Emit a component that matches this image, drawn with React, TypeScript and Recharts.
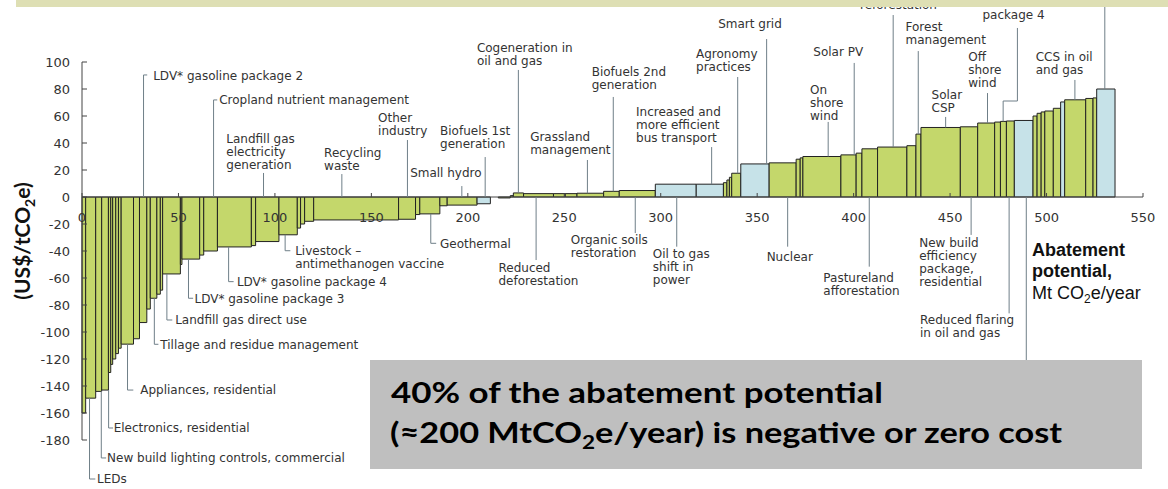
import React from 'react';
import { ComposedChart, XAxis, YAxis, Line, ReferenceArea, ReferenceLine, ReferenceDot } from 'recharts';

// abatement measures, left to right: width (Mt CO2e/year) and cost (US$/tCO2e)
const widths = [
  1.9, 5.2, 3.1, 3.5, 1.2, 1.0, 1.6, 1.4, 1.4, 6.4,
  3.1, 3.8, 1.8, 3.4, 1.8, 1.2, 9.2, 0.8, 9.2, 2.1,
  7.1, 17.6, 2.2, 12.1, 9.5, 1.7, 2.1, 4.7, 44.0, 8.8,
  2.2, 10.4, 3.8, 15.5, 6.9, 4.1, 6.2, 1.6, 5.3, 15.5,
  6.1, 6.1, 13.8, 8.1, 18.7, 21.2, 14.1, 1.8, 1.3, 1.2,
  4.7, 14.7, 14.0, 2.1, 1.4, 19.7, 7.9, 3.0, 8.1, 15.2,
  4.7, 2.6, 20.4, 9.0, 8.8, 3.0, 3.1, 4.1, 9.7, 2.1,
  2.1, 1.9, 4.4, 3.8, 2.1, 10.9, 3.8, 1.9, 9.5,
];
const costs = [
  -160, -149, -144, -143, -130, -124, -120, -116, -112, -109,
  -105, -93, -83, -75, -72, -69, -57, -50, -46, -43,
  -40, -37, -36, -33, -28, -23, -20, -18, -17, -16.5,
  -13, -12.5, -6.5, -6, -5, 0, -0.7, 1, 3, 2.5,
  2.5, 2.5, 2.8, 4.2, 4.8, 9.5, 9.5, 10.6, 12.6, 14.6,
  17.6, 24.5, 25.3, 28, 29, 30, 31.2, 32.5, 35.7, 37,
  38, 46.6, 51.5, 52, 54.8, 55.5, 56, 56.3, 56.7, 60,
  62, 63, 63.7, 65.7, 70.4, 72, 73, 73.4, 80,
];
// measures drawn in light blue (1-based position in the curve)
const blueMeasures = [35, 46, 47, 52, 69, 75, 79];

const xTicks = [0, 50, 100, 150, 200, 250, 300, 350, 400, 450, 500, 550];
const yTicks = [-180, -160, -140, -120, -100, -80, -60, -40, -20, 0, 20, 40, 60, 80, 100];

// callouts: text lines, where the text starts (Mt, cost) and the leader line
type Note = { lines: string[]; at?: [number, number]; path: [number, number][] };
const notes: Note[] = [
  { lines: ['LDV* gasoline package 2'], at: [36.9, 89.6], path: [[31.9, 0], [31.9, 90.4], [33.8, 90.4]] },
  { lines: ['Cropland nutrient management'], at: [71.1, 71.9], path: [[68.2, 0], [68.2, 71.9], [70.1, 71.9]] },
  { lines: ['Landfill gas', 'electricity', 'generation'], at: [74.8, 43], path: [[94.1, 17.8], [94.1, 0]] },
  { lines: ['Recycling', 'waste'], at: [125.5, 32.6], path: [[134.7, 17], [134.7, 0]] },
  { lines: ['Other', 'industry'], at: [153.5, 58.5], path: [[168.7, 42.2], [168.7, 0]] },
  { lines: ['Biofuels 1st', 'generation'], at: [185.6, 48.9], path: [[209, 29.6], [209, 0]] },
  { lines: ['Small hydro'], at: [170.1, 17.8], path: [[196.9, 8.1], [196.9, 0]] },
  { lines: ['Cogeneration in', 'oil and gas'], at: [204.7, 110.4], path: [[226.2, 94.1], [226.2, 3]] },
  { lines: ['Grassland', 'management'], at: [232.3, 44.4], path: [[262, 27.4], [262, 2.8]] },
  { lines: ['Biofuels 2nd', 'generation'], at: [264.2, 92.6], path: [[275.4, 74.1], [275.4, 4.2]] },
  { lines: ['Increased and', 'more efficient', 'bus transport'], at: [287.2, 63], path: [[326.4, 37], [326.4, 9.5]] },
  { lines: ['Agronomy', 'practices'], at: [318.3, 105.9], path: [[339.9, 88.9], [339.9, 17.6]] },
  { lines: ['Smart grid'], at: [329.8, 128.1], path: [[354.9, 117], [354.9, 24.5]] },
  { lines: ['Solar PV'], at: [379.1, 107.4], path: [[400.3, 99.3], [400.3, 31.2]] },
  { lines: ['On', 'shore', 'wind'], at: [377.4, 79.3], path: [[386.8, 55.6], [386.8, 30]] },
  { lines: ['reforestation'], at: [403.3, 142.6], path: [[420.5, 134.8], [420.5, 37]] },
  { lines: ['Forest', 'management'], at: [426.9, 125.9], path: [[433.5, 108.1], [433.5, 46.6]] },
  { lines: ['Solar', 'CSP'], at: [440.4, 75.6], path: [[447.7, 59.3], [447.7, 51.5]] },
  { lines: ['Off', 'shore', 'wind'], at: [459.4, 103.7], path: [[469.4, 77], [469.4, 54.8]] },
  { lines: ['package 4'], at: [466.8, 134.8], path: [[477.5, 56], [477.5, 71.1], [484.9, 71.1], [484.9, 125.2]] },
  { lines: ['CCS in oil', 'and gas'], at: [494.4, 103.7], path: [[514.7, 86.7], [514.7, 72]] },
  { lines: [], path: [[530.2, 146], [530.2, 80]] },

  { lines: ['LEDs'], at: [7.8, -208.9], path: [[3.9, -149], [3.9, -208.9], [6.9, -208.9]] },
  { lines: ['New build lighting controls, commercial'], at: [13, -193.3], path: [[10, -144], [10, -193.3], [12.5, -193.3]] },
  { lines: ['Electronics, residential'], at: [16.4, -171.1], path: [[13.8, -143], [13.8, -171.1], [16.1, -171.1]] },
  { lines: ['Appliances, residential'], at: [30.2, -143], path: [[23.6, -109], [23.6, -143], [26.6, -143]] },
  { lines: ['Tillage and residue management'], at: [40.6, -109.1], path: [[37.5, -75], [37.5, -109.1], [39.6, -109.1]] },
  { lines: ['Landfill gas direct use'], at: [48.3, -91.1], path: [[44, -57], [44, -91.1], [46.8, -91.1]] },
  { lines: ['LDV* gasoline package 3'], at: [58.3, -75], path: [[55.2, -46], [55.2, -75], [57.6, -75]] },
  { lines: ['LDV* gasoline package 4'], at: [80.3, -62.7], path: [[76, -37], [76, -62.7], [78.6, -62.7]] },
  { lines: ['Livestock \u2013', 'antimethanogen vaccine'], at: [110.5, -39.8], path: [[105.3, -28], [105.3, -39.8], [108, -39.8]] },
  { lines: ['Geothermal'], at: [185.6, -34.3], path: [[180.8, -12.5], [180.8, -34.3], [183.6, -34.3]] },
  { lines: ['Reduced', 'deforestation'], at: [215.9, -52.1], path: [[235.4, 0], [235.4, -46.7]] },
  { lines: ['Organic soils', 'restoration'], at: [253.4, -31.9], path: [[286.8, 0], [286.8, -26.7]] },
  { lines: ['Oil to gas', 'shift in', 'power'], at: [295.9, -41.7], path: [[308.3, 0], [308.3, -36.8]] },
  { lines: ['Nuclear'], at: [354.9, -44.2], path: [[365.8, 0], [365.8, -36.8]] },
  { lines: ['Pastureland', 'afforestation'], at: [384.3, -59.5], path: [[408.1, 0], [408.1, -51.6]] },
  { lines: ['New build', 'efficiency', 'package,', 'residential'], at: [434, -33.6], path: [[460.9, 0], [460.9, -28.1]] },
  { lines: ['Reduced flaring', 'in oil and gas'], at: [434.4, -90.6], path: [[480.6, 0], [480.6, -86.2]] },
  { lines: [], path: [[489.5, 0], [489.5, -125]] },
];

const W = 1168;
const H = 489;
const M = { top: 62, right: 25, bottom: 19, left: 22 };
const Y_AXIS_W = 60;
const X_AXIS_H = 30;
const Y_MIN = -180;
const Y_MAX = 100;
const PLOT_H = H - M.top - M.bottom - X_AXIS_H;
const ZERO_Y = M.top + (PLOT_H * Y_MAX) / (Y_MAX - Y_MIN);

const GREEN = '#c4d76b';
const BLUE = '#c6e2e8';
const EDGE = '#222';
const AXIS = '#444';
const LEADER = '#6f7f88';
const INK = '#333';
const FONT = 'DejaVu Sans, Verdana, sans-serif';

let cum = 0;
const bars = widths.map((w, i) => {
  const b = { x1: cum, x2: cum + w, x: cum + w / 2, cost: costs[i], blue: blueMeasures.includes(i + 1) };
  cum += w;
  return b;
});

// x axis sits on the zero line, so the ticks are drawn there
function XTick(props: any) {
  const { x, payload } = props;
  return (
    <g>
      <line x1={x} x2={x} y1={ZERO_Y - 4} y2={ZERO_Y} stroke={AXIS} />
      <text x={x} y={ZERO_Y + 25} textAnchor="middle" fontSize={13} fill={INK} fontFamily={FONT}>
        {payload.value}
      </text>
    </g>
  );
}

function noteText(lines: string[]) {
  return (p: any) => (
    <text x={p.cx} y={p.cy} fontSize={12} fill={INK} fontFamily={FONT}>
      {lines.map((l, i) => (
        <tspan key={i} x={p.cx} dy={i === 0 ? '0.36em' : 13}>
          {l}
        </tspan>
      ))}
    </text>
  );
}

export default function App() {
  return (
    <div style={{ position: 'absolute', left: 0, top: 0, width: W, height: H, background: '#fff' }}>
      <ComposedChart width={W} height={H} margin={M} data={bars}>
        <XAxis
          type="number"
          dataKey="x"
          domain={[0, 550]}
          ticks={xTicks}
          interval={0}
          axisLine={false}
          tickLine={false}
          tick={<XTick />}
          height={X_AXIS_H}
        />
        <YAxis
          type="number"
          domain={[Y_MIN, Y_MAX]}
          ticks={yTicks}
          interval={0}
          width={Y_AXIS_W}
          axisLine={{ stroke: AXIS }}
          tickLine={{ stroke: AXIS }}
          tickSize={-5}
          tickMargin={17}
          tick={{ fontSize: 13, fill: INK, fontFamily: FONT }}
        />
        {bars
          .filter((b) => b.cost !== 0)
          .map((b, i) => (
            <ReferenceArea
              key={'b' + i}
              x1={b.x1}
              x2={b.x2}
              y1={0}
              y2={b.cost}
              fill={b.blue ? BLUE : GREEN}
              fillOpacity={1}
              stroke={EDGE}
              strokeWidth={1}
            />
          ))}
        <Line dataKey="cost" stroke="none" dot={false} activeDot={false} isAnimationActive={false} />
        <ReferenceLine y={0} stroke={AXIS} />
        {notes.flatMap((n, i) =>
          n.path.slice(1).map((p, j) => (
            <ReferenceLine
              key={'l' + i + '-' + j}
              segment={[
                { x: n.path[j][0], y: n.path[j][1] },
                { x: p[0], y: p[1] },
              ]}
              stroke={LEADER}
              strokeWidth={1}
              ifOverflow="visible"
            />
          ))
        )}
        {notes
          .filter((n) => n.at)
          .map((n, i) => (
            <ReferenceDot
              key={'t' + i}
              x={n.at![0]}
              y={n.at![1]}
              r={0}
              ifOverflow="visible"
              shape={noteText(n.lines)}
            />
          ))}
      </ComposedChart>
      <svg
        width={W}
        height={H}
        style={{ position: 'absolute', left: 0, top: 0, pointerEvents: 'none' }}
      >
        <rect x={16} y={0} width={W - 16} height={7} fill="#dedfb4" />
        <text
          transform="translate(30,241) rotate(-90)"
          textAnchor="middle"
          fontFamily="Lato, sans-serif"
          fontWeight={700}
          fontSize={21}
          fill="#111"
        >
          (US$/tCO<tspan dy={5} fontSize={14}>2</tspan>
          <tspan dy={-5}>e)</tspan>
        </text>
        <text x={1032} y={256} fontFamily="Liberation Sans, Arial, sans-serif" fontWeight={700} fontSize={18} fill="#111">
          Abatement
        </text>
        <text x={1032} y={277} fontFamily="Liberation Sans, Arial, sans-serif" fontWeight={700} fontSize={18} fill="#111">
          potential,
        </text>
        <text x={1032} y={299} fontFamily="Liberation Sans, Arial, sans-serif" fontSize={18} fill="#111">
          Mt CO<tspan dy={4} fontSize={12}>2</tspan>
          <tspan dy={-4}>e/year</tspan>
        </text>
        <rect x={370} y={360} width={772} height={109} fill="#bfbfbf" />
        <text
          x={391}
          y={403}
          fontFamily="Lato, sans-serif"
          fontWeight={700}
          fontSize={29}
          fill="#000"
          textLength={492}
          lengthAdjust="spacingAndGlyphs"
        >
          40% of the abatement potential
        </text>
        <text
          x={390}
          y={443}
          fontFamily="Lato, sans-serif"
          fontWeight={700}
          fontSize={29}
          fill="#000"
          textLength={672}
          lengthAdjust="spacingAndGlyphs"
        >
          (≈200 MtCO<tspan dy={6} fontSize={19}>2</tspan>
          <tspan dy={-6}>e/year) is negative or zero cost</tspan>
        </text>
      </svg>
    </div>
  );
}
